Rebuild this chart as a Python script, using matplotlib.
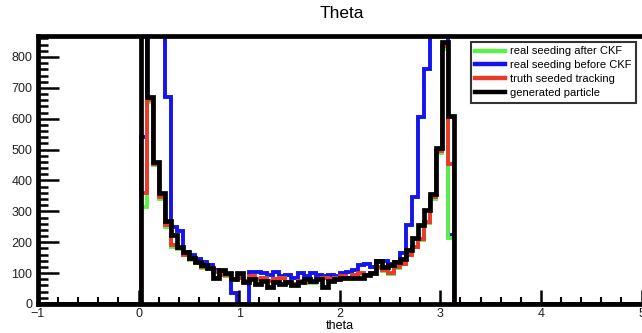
import numpy as np
import matplotlib.pyplot as plt
from matplotlib.lines import Line2D
from matplotlib.ticker import MultipleLocator

plt.rcParams['font.family'] = ['Liberation Sans', 'DejaVu Sans']

# istogramma: 100 bin tra -1 e 5 (larghezza 0.06)
bin_edges = np.linspace(-1, 5, 101)
first_bin = 17  # primo bin non vuoto, theta = 0.02

# conteggi, dal bin 0.02 al bin 3.08
generated = [1100, 670, 460, 360, 270, 225, 185, 170, 150, 135, 125, 115, 85,
             110, 100, 80, 100, 70, 80, 65, 75, 55, 70, 65, 70, 60, 70, 80,
             75, 80, 55, 75, 80, 85, 85, 85, 85, 95, 100, 140, 120, 125, 135,
             145, 175, 215, 255, 305, 355, 505, 850, 610]
truth_seeded = [360, 660, 455, 345, 255, 190, 180, 160, 145, 135, 120, 115,
                105, 95, 95, 80, 85, 75, 90, 80, 85, 75, 80, 85, 70, 65, 75,
                70, 70, 80, 85, 80, 85, 90, 85, 95, 100, 95, 100, 120, 110,
                100, 120, 130, 160, 185, 210, 265, 345, 495, 835, 455]
real_after_ckf = [315, 655, 450, 340, 250, 185, 178, 158, 143, 133, 118, 112,
                  103, 93, 92, 78, 83, 73, 88, 78, 83, 73, 78, 83, 68, 63, 73,
                  68, 68, 78, 83, 78, 83, 88, 83, 93, 98, 93, 98, 118, 108,
                  98, 118, 128, 158, 183, 208, 262, 340, 490, 825, 215]
real_before_ckf = [540, 1400, 1500, 1200, 670, 250, 235, 170, 160, 145, 135,
                   125, 110, 100, 90, 35, 0, 0, 105, 105, 100, 95, 105, 90, 95,
                   85, 100, 90, 100, 95, 90, 95, 90, 100, 105, 110, 125, 130,
                   120, 140, 140, 130, 135, 165, 255, 345, 605, 760, 1000,
                   1300, 1500, 225]

legend_labels = ['real seeding after CKF', 'real seeding before CKF',
                 'truth seeded tracking', 'generated particle']


def riempi(valori):
    conteggi = np.zeros(len(bin_edges) - 1)
    conteggi[first_bin:first_bin + len(valori)] = valori
    return conteggi


fig = plt.figure(figsize=(6.42, 3.33), dpi=100)
ax = fig.add_axes([38 / 642, 29 / 333, 603.5 / 642, 268 / 333])

# ordine di disegno: blu sotto, nero sopra
ax.stairs(riempi(real_before_ckf), bin_edges, color='#1414ee', lw=2.8)
ax.stairs(riempi(real_after_ckf), bin_edges, color='#5cf04a', lw=2.8)
ax.stairs(riempi(truth_seeded), bin_edges, color='#ea3a2c', lw=2.8)
ax.stairs(riempi(generated), bin_edges, color='black', lw=3.4)

ax.set_xlim(-1, 5)
ax.set_ylim(0, 868)

for lato in ['left', 'top', 'bottom']:
    ax.spines[lato].set_linewidth(3.4)
ax.spines['right'].set_visible(False)

ax.xaxis.set_major_locator(MultipleLocator(1))
ax.xaxis.set_minor_locator(MultipleLocator(0.2))
ax.yaxis.set_major_locator(MultipleLocator(100))
ax.yaxis.set_minor_locator(MultipleLocator(20))
ax.tick_params(which='major', direction='in', width=1.8, labelsize=9,
               labelcolor='#222222')
ax.tick_params(axis='y', which='major', length=15, pad=4)
ax.tick_params(axis='x', which='major', length=10, pad=3)
ax.tick_params(axis='y', which='minor', direction='in', length=7, width=1.8)
ax.tick_params(axis='x', which='minor', direction='in', length=5, width=1.5)

ax.set_xlabel('theta', fontsize=9, labelpad=0)
fig.text(342 / 642, 1 - 13 / 333, 'Theta', fontsize=12.5, ha='center',
         va='center')

maniglie = [Line2D([], [], color='#5cf04a', lw=3.2),
            Line2D([], [], color='#1414ee', lw=3.2),
            Line2D([], [], color='#ea3a2c', lw=3.2),
            Line2D([], [], color='black', lw=3.2)]
leg = ax.legend(maniglie, legend_labels, loc='upper left',
                bbox_to_anchor=(471 / 642, 1 - 42 / 333),
                bbox_transform=fig.transFigure, fontsize=8, frameon=True,
                fancybox=False, edgecolor='black', borderaxespad=0,
                handlelength=2.7, handletextpad=0.45, labelspacing=0.35,
                borderpad=0.4)
leg.get_frame().set_linewidth(1.5)

fig.savefig('out.png', dpi=100)
